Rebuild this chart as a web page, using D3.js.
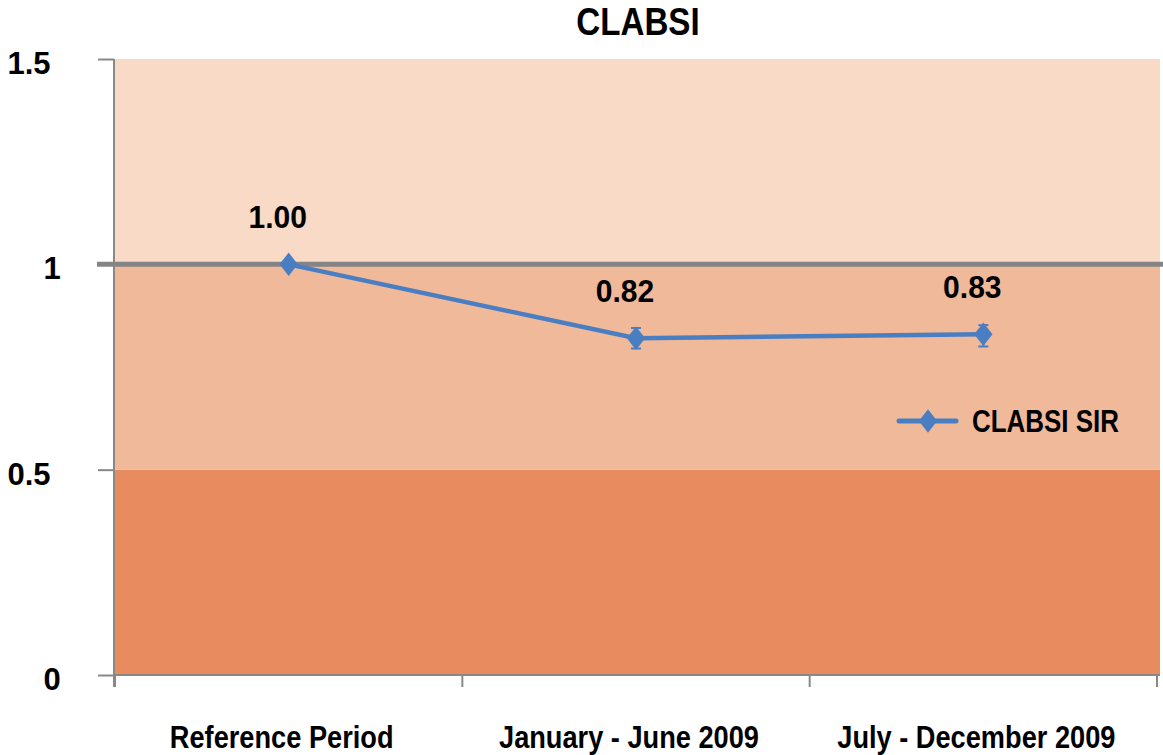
<!DOCTYPE html>
<html><head><meta charset="utf-8">
<script src="https://cdn.jsdelivr.net/npm/d3@7"></script>
<style>body{margin:0;background:#fff}svg{display:block}</style>
</head><body>
<svg id="c" width="1163" height="755"></svg>
<script>
const categories = ["Reference Period", "January - June 2009", "July - December 2009"];
const sirValues = [1.00, 0.82, 0.83];
const errLow = [0.0, 0.025, 0.03];
const errHigh = [0.0, 0.025, 0.022];
const valueLabels = ["1.00", "0.82", "0.83"];
const yTicks = [0, 0.5, 1, 1.5];
const yTickLabels = ["0", "0.5", "1", "1.5"];
const bands = [[0, 0.5, "#E88B5E"], [0.5, 1, "#F0B99A"], [1, 1.5, "#F8DAC6"]];
const refLine = 1;
const title = "CLABSI";
const seriesName = "CLABSI SIR";

const font = "'Liberation Sans',Arial,sans-serif";
const svg = d3.select("#c");
const L = 115, R = 1157, T = 59, B = 675;
const x = d3.scaleBand().domain(categories).range([L, R]).padding(0);
const y = d3.scaleLinear().domain([0, 1.5]).range([B, T]);
const blue = "#4A7EC2";

// condensed text helper: draws text scaled horizontally around anchor x
function ctext(parent, tx, ty, str, size, sx, anchor) {
  return parent.append("text")
    .attr("transform", `translate(${tx},${ty}) scale(${sx},1)`)
    .attr("text-anchor", anchor || "middle")
    .style("font-family", font).style("font-size", size + "px").style("font-weight", "bold")
    .attr("fill", "#000").text(str);
}

svg.selectAll("rect.band").data(bands).enter().append("rect")
  .attr("x", L).attr("width", 1160 - L)
  .attr("y", d => y(d[1])).attr("height", d => y(d[0]) - y(d[1]))
  .attr("fill", d => d[2]);

// y axis
const ya = svg.append("g").attr("transform", `translate(${L - 1},0)`)
  .call(d3.axisLeft(y).tickValues(yTicks).tickSize(16).tickFormat(""));
ya.select(".domain").attr("stroke", "#888").attr("stroke-width", 2).attr("d", `M-0,${T}V${B + 12}`);
ya.selectAll(".tick line").attr("stroke", "#888").attr("stroke-width", 2);
yTicks.forEach((t, i) => {
  const lab = yTickLabels[i];
  ctext(svg, lab.length > 1 ? 29 : 52, y(t) + 15, lab, 31, 1, "middle");
});

// x axis
const xa = svg.append("g").attr("transform", `translate(0,${B})`);
xa.append("line").attr("x1", L - 1).attr("x2", 1160).attr("y1", 0).attr("y2", 0)
  .attr("stroke", "#888").attr("stroke-width", 2);
const edges = [L].concat(categories.map(c => x(c) + x.bandwidth()));
xa.selectAll("line.t").data(edges).enter().append("line")
  .attr("x1", d => d).attr("x2", d => d).attr("y1", 0).attr("y2", 12)
  .attr("stroke", "#888").attr("stroke-width", 2);
categories.forEach(c => ctext(svg, x(c) + x.bandwidth() / 2 - 7, 748, c, 32, 0.85, "middle"));

// reference line
svg.append("line").attr("x1", 97).attr("x2", 1163).attr("y1", y(refLine)).attr("y2", y(refLine))
  .attr("stroke", "#848484").attr("stroke-width", 5);

// series
const pts = categories.map((c, i) => ({ x: x(c) + x.bandwidth() / 2, v: sirValues[i], i }));
svg.append("path").datum(pts)
  .attr("d", d3.line().x(d => d.x).y(d => y(d.v)))
  .attr("fill", "none").attr("stroke", blue).attr("stroke-width", 4.5);

// error bars
pts.forEach(p => {
  if (errLow[p.i] + errHigh[p.i] <= 0) return;
  const y1 = y(p.v + errHigh[p.i]), y2 = y(p.v - errLow[p.i]);
  svg.append("line").attr("x1", p.x).attr("x2", p.x).attr("y1", y1).attr("y2", y2).attr("stroke", blue).attr("stroke-width", 2);
  [y1, y2].forEach(yy => svg.append("line").attr("x1", p.x - 5).attr("x2", p.x + 5).attr("y1", yy).attr("y2", yy).attr("stroke", blue).attr("stroke-width", 2));
});

const diamond = d3.symbol().type(d3.symbolDiamond).size(160);
svg.selectAll("path.m").data(pts).enter().append("path")
  .attr("d", diamond).attr("transform", d => `translate(${d.x},${y(d.v)}) scale(1.35,1)`)
  .attr("fill", blue);

pts.forEach(p => ctext(svg, p.x - 11, y(p.v) - 36, valueLabels[p.i], 31, 0.97, "middle"));

// legend
const lg = svg.append("g");
lg.append("line").attr("x1", 899).attr("x2", 956).attr("y1", 421).attr("y2", 421)
  .attr("stroke", blue).attr("stroke-width", 5).attr("stroke-linecap", "round");
lg.append("path").attr("d", diamond).attr("transform", "translate(928,421) scale(1.35,1)").attr("fill", blue);
ctext(lg, 972, 432, seriesName, 32, 0.81, "start");

ctext(svg, 638, 35, title, 39, 0.85, "middle");
</script>
</body></html>
